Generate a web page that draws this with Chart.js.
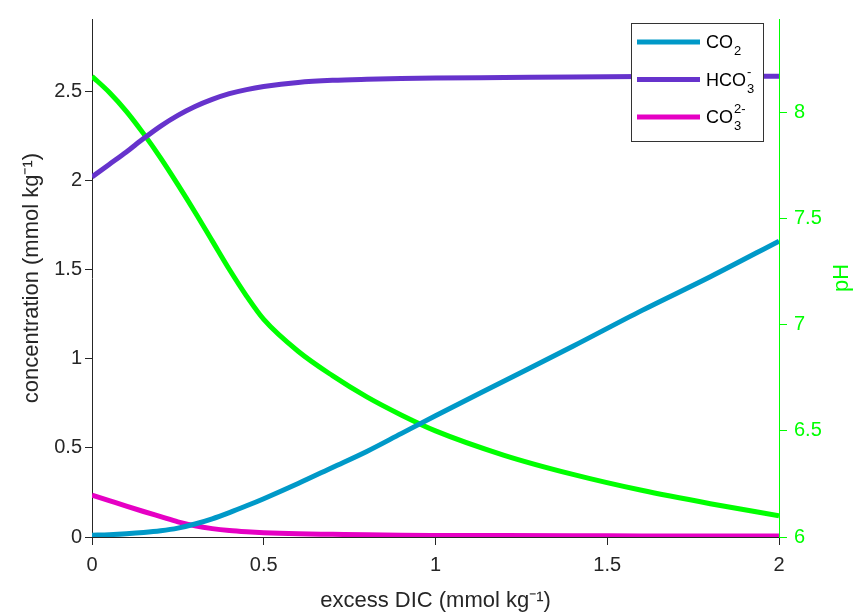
<!DOCTYPE html>
<html>
<head>
<meta charset="utf-8">
<script src="https://cdn.jsdelivr.net/npm/chart.js@4"></script>
<style>
  html, body { margin: 0; padding: 0; background: #fff; }
  #wrap { width: 860px; height: 615px; }
</style>
</head>
<body>
<div id="wrap"><canvas id="myChart"></canvas></div>
<script>
// data
var excessDIC = [0, 0.05, 0.1, 0.15, 0.2, 0.25, 0.3, 0.35, 0.4, 0.45, 0.5, 0.6, 0.7, 0.8, 0.9, 1.0, 1.2, 1.4, 1.6, 1.8, 2.0];
var co2  = [0.01, 0.013, 0.018, 0.025, 0.035, 0.05, 0.073, 0.102, 0.137, 0.175, 0.215, 0.30, 0.39, 0.48, 0.58, 0.68, 0.875, 1.07, 1.27, 1.46, 1.66];
var hco3 = [2.02, 2.09, 2.16, 2.235, 2.305, 2.365, 2.415, 2.455, 2.487, 2.51, 2.527, 2.55, 2.562, 2.568, 2.572, 2.575, 2.578, 2.581, 2.583, 2.584, 2.585];
var co3  = [0.235, 0.204, 0.173, 0.143, 0.114, 0.085, 0.063, 0.047, 0.036, 0.029, 0.024, 0.018, 0.015, 0.012, 0.01, 0.009, 0.008, 0.007, 0.006, 0.005, 0.005];
var pH   = [8.17, 8.095, 8.005, 7.90, 7.785, 7.66, 7.53, 7.395, 7.26, 7.135, 7.025, 6.875, 6.76, 6.66, 6.575, 6.50, 6.385, 6.295, 6.22, 6.157, 6.10];

// legend text: base, superscript, subscript
var legendBase = ['CO', 'HCO', 'CO'];
var legendSup  = ['', '-', '2-'];
var legendSub  = ['2', '3', '3'];

var FONT = '"Liberation Sans", Arial, sans-serif';
var AXIS = '#262626';
var GREEN = '#00ff00';

function pts(ys) {
  return excessDIC.map(function (x, i) { return { x: x, y: ys[i] }; });
}

function series(label, ys, color, axis) {
  return {
    label: label,
    data: pts(ys),
    borderColor: color,
    backgroundColor: color,
    borderWidth: 5,
    pointRadius: 0,
    cubicInterpolationMode: 'monotone',
    yAxisID: axis
  };
}

function fmt(v) {
  return String(+(+v).toFixed(2));
}

// legend box drawn inside the plot, top right
var legendBox = {
  id: 'legendBox',
  afterDatasetsDraw: function (chart) {
    var ctx = chart.ctx;
    var a = chart.chartArea;
    var w = 132, h = 118;
    var bx = a.right - 16 - w, by = a.top + 4;
    ctx.save();
    ctx.fillStyle = '#fff';
    ctx.fillRect(bx, by, w, h);
    ctx.strokeStyle = '#333';
    ctx.lineWidth = 1;
    ctx.strokeRect(Math.round(bx) + 0.5, Math.round(by) + 0.5, w, h);
    for (var i = 0; i < 3; i++) {
      var ds = chart.data.datasets[i];
      var y = by + 19 + i * 37.5;
      ctx.strokeStyle = ds.borderColor;
      ctx.lineWidth = 5;
      ctx.beginPath();
      ctx.moveTo(bx + 6, y);
      ctx.lineTo(bx + 69, y);
      ctx.stroke();
      ctx.fillStyle = '#000';
      ctx.textBaseline = 'alphabetic';
      ctx.font = '18px ' + FONT;
      var tx = bx + 75;
      ctx.fillText(legendBase[i], tx, y + 6);
      tx += ctx.measureText(legendBase[i]).width + 1;
      ctx.font = '13px ' + FONT;
      ctx.fillText(legendSub[i], tx, y + 13);
      if (legendSup[i]) ctx.fillText(legendSup[i], tx, y - 4);
    }
    ctx.restore();
  }
};

// right axis line in green and its title, reading bottom to top
var phAxis = {
  id: 'phAxis',
  afterDraw: function (chart) {
    var ctx = chart.ctx;
    var a = chart.chartArea;
    ctx.save();
    ctx.strokeStyle = GREEN;
    ctx.lineWidth = 1;
    ctx.beginPath();
    ctx.moveTo(Math.floor(a.right) + 0.5, a.top);
    ctx.lineTo(Math.floor(a.right) + 0.5, a.bottom);
    ctx.stroke();
    ctx.translate(842, (a.top + a.bottom) / 2);
    ctx.rotate(-Math.PI / 2);
    ctx.fillStyle = GREEN;
    ctx.font = '22px ' + FONT;
    ctx.textAlign = 'center';
    ctx.textBaseline = 'middle';
    ctx.fillText('pH', 0, 0);
    ctx.restore();
  }
};

var ctx = document.getElementById('myChart').getContext('2d');
var chart = new Chart(ctx, {
  type: 'line',
  data: {
    datasets: [
      series('CO₂', co2, '#0099c8', 'y'),
      series('HCO₃⁻', hco3, '#6633cc', 'y'),
      series('CO₃²⁻', co3, '#e600c4', 'y'),
      series('pH', pH, GREEN, 'y2')
    ]
  },
  plugins: [legendBox, phAxis],
  options: {
    responsive: true,
    maintainAspectRatio: false,
    animation: false,
    layout: { padding: { top: 14, left: 0, right: 0, bottom: 0 } },
    plugins: {
      legend: { display: false },
      tooltip: { enabled: false }
    },
    scales: {
      x: {
        type: 'linear',
        min: 0,
        max: 2,
        afterFit: function (s) { s.height = 78; },
        ticks: { stepSize: 0.5, callback: fmt, color: AXIS, padding: 8, maxRotation: 0, font: { family: FONT, size: 20 } },
        grid: { drawOnChartArea: false, tickLength: 8, color: AXIS },
        border: { color: AXIS },
        title: {
          display: true,
          text: 'excess DIC (mmol kg⁻¹)',
          color: AXIS,
          font: { family: FONT, size: 22 },
          padding: { top: 0, bottom: 1 }
        }
      },
      y: {
        position: 'left',
        min: 0,
        max: 2.906,
        afterFit: function (s) { s.width = 92; },
        ticks: { stepSize: 0.5, includeBounds: false, callback: fmt, color: AXIS, padding: 3, font: { family: FONT, size: 20 } },
        grid: { drawOnChartArea: false, tickLength: 7, color: AXIS },
        border: { color: AXIS },
        title: {
          display: true,
          text: 'concentration (mmol kg⁻¹)',
          color: AXIS,
          font: { family: FONT, size: 22 },
          padding: { top: 19, bottom: 0 }
        }
      },
      y2: {
        position: 'right',
        min: 6,
        max: 8.44,
        afterFit: function (s) { s.width = 81; },
        ticks: { stepSize: 0.5, includeBounds: false, callback: fmt, color: GREEN, padding: 7, font: { family: FONT, size: 20 } },
        grid: { drawOnChartArea: false, tickLength: 8, color: GREEN },
        border: { color: GREEN }
      }
    }
  }
});
</script>
</body>
</html>
